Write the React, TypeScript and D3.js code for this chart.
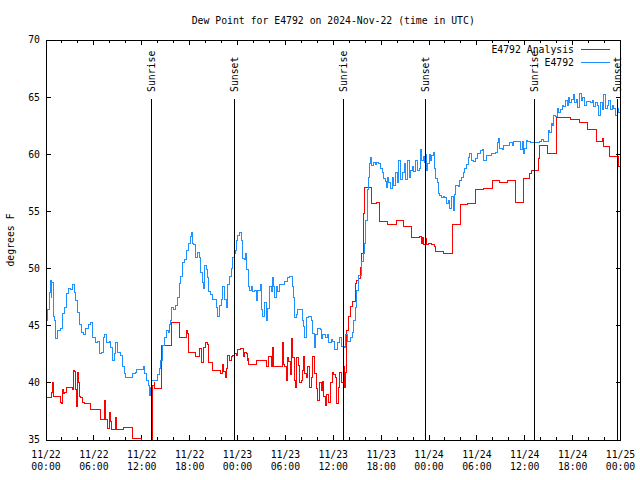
import React from 'react';
import * as d3 from 'd3';

const W = 640;
const H = 480;
const TITLE = 'Dew Point for E4792 on 2024-Nov-22 (time in UTC)';
const Y_LABEL = 'degrees F';
const START = Date.UTC(2024, 10, 22);
const SPAN_HOURS = 72;
const Y_TICKS = [35, 40, 45, 50, 55, 60, 65, 70];
const LEGEND_LABELS = ['E4792 Analysis', 'E4792'];
const SERIES_COLORS = ['#ff0000', '#1e90ff'];

const SUN_NAMES = ['Sunrise', 'Sunset', 'Sunrise', 'Sunset', 'Sunrise', 'Sunset'];
const SUN_HOURS = [13.23, 23.62, 37.29, 47.58, 61.25, 71.66];

// [hours since 2024-11-22 00:00 UTC, dew point F]
const observed: [number, number][] = [
  [0.0,45.5],[0.09,45.5],[0.16,46.4],[0.38,47.9],[0.59,49.0],[0.69,47.5],[0.75,48.8],[0.88,45.8],[1.09,45.5],[1.22,43.9],[1.42,44.6],[1.84,44.8],[2.04,46.1],[2.35,46.6],[2.6,47.8],[2.76,48.3],[3.01,48.2],[3.35,48.6],[3.51,47.9],[3.73,47.25],[3.93,46.2],[4.26,45.1],[4.48,44.4],[4.68,44.2],[4.98,44.8],[5.27,45.1],[5.61,45.25],[5.81,44.0],[6.23,43.5],[6.44,43.6],[6.65,42.6],[6.94,42.7],[7.19,44.0],[7.36,44.2],[7.61,43.5],[7.9,43.6],[8.12,43.1],[8.32,42.0],[8.53,42.6],[8.74,43.5],[8.94,42.7],[9.28,42.4],[9.57,41.4],[9.78,40.8],[10.0,40.5],[10.83,40.8],[11.25,40.9],[11.38,41.2],[12.2,41.4],[12.38,40.8],[12.63,40.25],[12.79,39.8],[12.96,38.9],[13.09,39.6],[13.27,40.2],[13.96,40.7],[14.17,41.3],[14.39,42.0],[14.59,43.3],[14.89,44.0],[15.14,44.6],[15.3,44.4],[15.47,45.1],[15.64,45.5],[15.77,46.6],[16.02,46.4],[16.27,46.8],[16.47,47.5],[16.68,48.7],[16.9,49.3],[17.1,50.5],[17.31,50.8],[17.65,51.6],[17.81,52.2],[18.06,52.8],[18.23,53.2],[18.4,52.2],[18.53,52.1],[18.73,51.0],[19.03,51.4],[19.23,51.0],[19.32,49.7],[19.57,48.8],[19.73,48.3],[19.86,50.3],[20.07,49.9],[20.19,49.2],[20.41,48.0],[20.57,47.7],[20.82,47.3],[21.32,46.6],[21.54,45.8],[21.74,46.8],[21.95,47.3],[22.17,48.4],[22.37,47.3],[22.58,46.6],[22.79,48.6],[22.99,49.3],[23.21,50.0],[23.42,51.0],[23.58,51.3],[23.75,51.6],[23.83,52.5],[24.05,52.9],[24.25,53.2],[24.46,52.5],[24.59,50.9],[24.87,50.8],[25.0,51.3],[25.18,49.9],[25.34,48.4],[25.5,48.1],[25.72,48.4],[25.93,48.0],[26.13,48.1],[26.34,47.25],[26.55,48.1],[26.84,48.6],[26.97,46.4],[27.18,45.8],[27.38,47.0],[27.6,45.5],[27.81,46.5],[28.01,48.4],[28.22,48.0],[28.35,49.2],[28.51,48.4],[28.69,47.5],[28.85,48.4],[29.06,48.0],[29.26,48.6],[29.89,48.9],[30.32,49.2],[30.52,49.3],[30.86,48.4],[31.02,47.5],[31.2,45.7],[31.36,46.0],[31.57,46.4],[32.11,45.5],[32.28,44.9],[32.4,44.0],[32.61,45.7],[32.95,45.8],[33.24,45.5],[33.45,44.3],[33.66,43.1],[33.78,44.2],[34.08,44.8],[34.37,44.7],[34.5,43.9],[34.71,44.2],[35.04,44.0],[35.34,44.2],[35.46,43.5],[35.75,43.8],[35.96,43.6],[36.16,42.9],[36.59,43.5],[36.79,44.0],[37.0,43.2],[37.42,43.1],[37.54,44.2],[37.76,43.6],[38.13,44.0],[38.35,44.4],[38.55,45.5],[38.76,46.6],[38.97,48.1],[39.22,49.4],[39.51,50.6],[39.73,51.3],[39.93,52.2],[40.05,54.25],[40.23,55.4],[40.35,56.9],[40.48,58.0],[40.55,59.2],[40.68,59.7],[40.85,59.0],[41.06,59.3],[41.31,59.1],[41.48,59.3],[41.73,59.2],[41.9,58.8],[42.15,58.4],[42.31,57.9],[42.56,57.6],[42.65,57.1],[42.86,58.0],[42.98,57.5],[43.19,57.0],[43.4,58.0],[43.56,57.3],[43.81,58.4],[43.99,57.5],[44.24,59.5],[44.41,57.8],[44.66,58.4],[44.87,59.2],[45.07,57.8],[45.28,59.5],[45.5,58.0],[45.7,58.6],[45.91,58.9],[46.12,58.5],[46.32,59.5],[46.5,58.6],[46.75,58.8],[46.91,60.4],[47.08,59.5],[47.25,59.8],[47.38,59.3],[47.5,60.0],[47.67,58.6],[47.83,59.2],[48.0,60.0],[48.17,59.5],[48.33,59.9],[48.51,60.2],[48.71,58.8],[48.83,57.9],[49.01,57.5],[49.13,56.6],[49.34,56.4],[49.55,56.2],[49.76,56.3],[49.96,56.2],[50.18,55.7],[50.39,56.0],[50.59,55.3],[50.8,56.3],[51.02,55.1],[51.14,56.5],[51.34,57.3],[51.64,57.2],[51.84,57.75],[52.06,58.0],[52.27,58.45],[52.47,58.8],[52.68,59.1],[52.9,59.7],[53.1,60.1],[53.31,59.5],[53.52,59.4],[53.81,59.6],[54.02,60.1],[54.44,60.3],[54.65,60.4],[54.85,59.5],[55.19,59.9],[55.78,60.1],[56.32,60.2],[56.53,61.0],[56.73,61.4],[56.86,60.5],[57.16,60.4],[57.36,60.8],[58.12,61.0],[58.42,60.8],[58.62,61.1],[59.46,60.4],[59.67,61.1],[59.8,60.1],[59.96,60.5],[60.21,61.25],[60.38,61.1],[60.71,61.0],[61.88,61.1],[62.06,61.3],[62.39,61.1],[62.94,62.1],[63.14,61.9],[63.35,62.7],[63.51,62.5],[63.64,63.4],[63.85,63.3],[64.06,64.0],[64.27,63.7],[64.48,63.9],[64.69,64.3],[64.89,64.2],[65.1,64.75],[65.31,64.3],[65.44,65.0],[65.64,64.5],[65.86,64.8],[66.07,65.2],[66.23,64.5],[66.48,64.8],[66.65,64.1],[66.82,65.3],[67.07,64.7],[67.23,65.0],[67.48,64.3],[67.74,64.6],[68.24,64.5],[68.45,64.75],[68.65,64.2],[68.87,64.5],[69.08,64.3],[69.28,63.4],[69.49,64.5],[69.7,63.9],[69.91,65.2],[70.12,64.0],[70.33,64.3],[70.53,64.75],[70.75,63.9],[70.96,64.3],[71.16,64.0],[71.37,63.4],[71.58,64.0],[71.79,63.7],[72.0,64.5]
];

const analysis: [number, number][] = [
  [0,38.7],[0.66,39.2],[0.79,40.0],[0.92,38.8],[1.76,38.3],[1.88,38.2],[2.04,39.4],[2.17,39.1],[2.35,39.2],[2.6,39.6],[3.3,39.4],[3.42,41.1],[3.6,41.0],[3.73,39.4],[3.8,37.9],[3.93,40.95],[4.05,40.0],[4.18,38.8],[4.35,38.7],[4.55,38.3],[4.77,38.2],[5.61,37.7],[6.77,36.8],[7.36,38.5],[7.49,36.8],[7.69,36.05],[7.9,37.45],[8.03,36.6],[8.19,35.9],[8.74,37.0],[8.87,35.95],[9.7,36.1],[10.79,35.1],[11.92,34.0],[13.4,39.8],[13.56,40.0],[13.63,39.5],[14.43,43.3],[15.77,45.3],[16.77,44.0],[17.6,44.6],[17.73,44.3],[17.81,42.7],[18.73,42.3],[19.23,43.05],[19.44,41.8],[19.78,43.1],[19.98,43.5],[20.19,43.4],[20.32,41.8],[20.82,41.1],[21.86,40.8],[22.08,41.6],[22.24,41.0],[22.49,40.5],[22.58,41.3],[22.79,42.4],[22.99,42.0],[23.21,42.3],[23.42,42.4],[23.62,42.6],[23.83,42.4],[24.05,42.9],[24.33,43.05],[24.75,42.3],[24.92,42.7],[25.09,42.6],[25.21,42.0],[25.34,42.1],[25.43,41.65],[26.43,42.0],[27.68,41.4],[27.93,42.3],[28.22,41.4],[28.35,43.1],[28.51,41.4],[29.6,43.5],[29.77,41.6],[29.94,41.4],[30.11,40.25],[30.32,42.2],[30.44,41.9],[30.61,40.7],[30.77,43.9],[30.94,42.2],[31.15,40.25],[31.27,39.6],[31.45,42.2],[31.61,41.5],[31.77,40.0],[31.99,40.25],[32.2,41.1],[32.28,42.3],[32.45,40.8],[32.61,40.5],[32.82,41.4],[33.03,39.6],[33.24,40.5],[33.45,42.3],[33.66,40.8],[33.87,39.5],[34.08,38.5],[34.29,40.0],[34.5,39.3],[34.62,40.1],[34.83,38.8],[35.04,38.0],[35.21,39.0],[35.46,38.3],[35.63,40.0],[35.87,40.9],[36.09,40.7],[36.29,40.5],[36.46,38.2],[36.63,39.6],[36.79,40.9],[37.0,40.0],[37.38,41.4],[37.47,39.6],[37.54,40.9],[37.72,44.6],[37.92,45.8],[38.13,46.7],[38.47,47.1],[38.76,48.7],[38.97,49.0],[39.17,49.1],[39.39,50.1],[39.6,51.3],[39.73,52.7],[39.81,54.8],[39.93,57.1],[40.77,55.7],[41.48,55.8],[41.81,54.1],[42.86,53.9],[43.9,54.2],[44.82,53.7],[45.82,52.75],[46.83,52.8],[47.04,52.2],[47.16,52.7],[47.33,52.1],[47.5,52.6],[47.67,52.1],[47.88,52.2],[48.29,52.1],[48.42,52.15],[48.71,51.9],[48.83,51.5],[49.84,51.3],[50.89,53.9],[51.93,55.6],[52.77,55.7],[53.85,56.9],[54.85,57.0],[55.91,57.7],[56.86,57.5],[57.87,57.7],[58.83,55.8],[59.8,57.9],[60.63,58.35],[60.8,58.6],[61.75,59.65],[61.88,60.8],[62.88,60.1],[63.94,63.2],[65.77,63.05],[66.9,62.8],[67.9,62.2],[68.95,61.1],[69.7,61.35],[69.83,60.7],[70.66,59.8],[71.71,58.9],[72,58.9]
];

const FONT = '"DejaVu Sans Mono", "Liberation Mono", monospace';
const FS = 9.8;

const toDate = (h: number) => new Date(START + h * 3600 * 1000);

export default function App() {
  const left = 46, right = 620.5, top = 40, bottom = 440;
  const x = d3.scaleUtc().domain([toDate(0), toDate(SPAN_HOURS)]).range([left, right]);
  const y = d3.scaleLinear().domain([35, 70]).range([bottom, top]);
  const line = d3
    .line<[number, number]>()
    .x((d) => x(toDate(d[0])))
    .y((d) => y(d[1]))
    .curve(d3.curveStepAfter);

  const major = d3.utcHour.every(6)!.range(toDate(0), toDate(SPAN_HOURS + 0.1));
  const minor = d3.utcHour.every(2)!.range(toDate(0), toDate(SPAN_HOURS + 0.1));
  const fmtDay = d3.utcFormat('%m/%d');
  const fmtTime = d3.utcFormat('%H:%M');
  const majorSet = new Set(major.map((d) => +d));

  const series = [analysis, observed];

  return (
    <svg
      width={W}
      height={H}
      viewBox={`0 0 ${W} ${H}`}
      style={{ position: 'absolute', left: 0, top: 0, background: '#fff' }}
      fontFamily={FONT}
      fontSize={FS}
    >
      <rect x={0} y={0} width={W} height={H} fill="#fff" />
      <defs>
        <clipPath id="plot">
          <rect x={left} y={top} width={right - left} height={bottom - top} />
        </clipPath>
      </defs>

      <text x={(left + right) / 2} y={20.5} textAnchor="middle" dy="0.35em" fill="#000">
        {TITLE}
      </text>

      <text transform={`translate(10.5,${(top + bottom) / 2}) rotate(-90)`} textAnchor="middle" dy="0.35em" fill="#000">
        {Y_LABEL}
      </text>

      {/* ticks */}
      <g shapeRendering="crispEdges" stroke="#000">
        {Y_TICKS.map((v) => (
          <g key={v}>
            <line x1={left} x2={left + 5} y1={y(v)} y2={y(v)} />
            <line x1={right - 5} x2={right} y1={y(v)} y2={y(v)} />
          </g>
        ))}
        {minor.map((d) => {
          const len = majorSet.has(+d) ? 5 : 3;
          return (
            <g key={+d}>
              <line x1={x(d)} x2={x(d)} y1={bottom} y2={bottom - len} />
              <line x1={x(d)} x2={x(d)} y1={top} y2={top + len} />
            </g>
          );
        })}
      </g>
      {Y_TICKS.map((v) => (
        <text key={v} x={40} y={y(v)} dy="0.35em" textAnchor="end" fill="#000">
          {v}
        </text>
      ))}
      {major.map((d) => (
        <g key={+d}>
          <text x={x(d)} y={454.5} dy="0.35em" textAnchor="middle" fill="#000">
            {fmtDay(d)}
          </text>
          <text x={x(d)} y={466.5} dy="0.35em" textAnchor="middle" fill="#000">
            {fmtTime(d)}
          </text>
        </g>
      ))}

      {/* data */}
      <g clipPath="url(#plot)">
        {series.map((s, i) => (
          <path key={i} d={line(s) || ''} fill="none" stroke={SERIES_COLORS[i]} strokeWidth={1} shapeRendering="crispEdges" />
        ))}
      </g>

      {/* sun lines */}
      {SUN_HOURS.map((h, i) => {
        const sx = x(toDate(h));
        return (
          <g key={i}>
            <line x1={sx} x2={sx} y1={top + 59} y2={bottom} stroke="#000" shapeRendering="crispEdges" />
            <text transform={`translate(${sx},${top + 52}) rotate(-90)`} textAnchor="start" dy="0.35em" fill="#000">
              {SUN_NAMES[i]}
            </text>
          </g>
        );
      })}

      {/* legend */}
      {LEGEND_LABELS.map((lab, i) => {
        const ly = 49.5 + i * 13;
        return (
          <g key={lab}>
            <text x={574} y={ly} dy="0.35em" textAnchor="end" fill="#000">
              {lab}
            </text>
            <line x1={581} x2={610} y1={ly} y2={ly} stroke={SERIES_COLORS[i]} shapeRendering="crispEdges" />
          </g>
        );
      })}

      {/* frame */}
      <rect x={left} y={top} width={right - left} height={bottom - top} fill="none" stroke="#000" shapeRendering="crispEdges" />
    </svg>
  );
}
